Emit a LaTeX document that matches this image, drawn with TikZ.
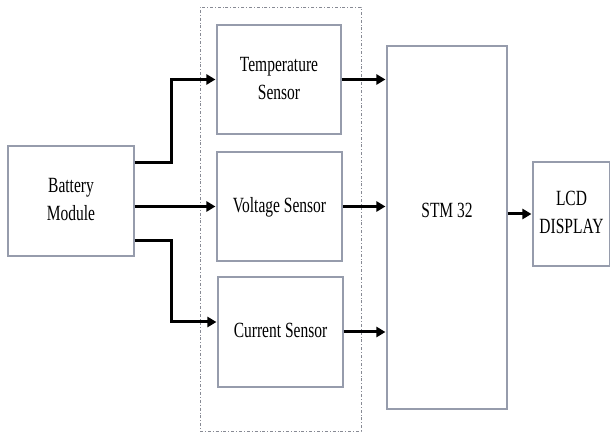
\documentclass[tikz,border=0pt]{standalone}
\usepackage{fontspec,graphicx}
\setmainfont{Liberation Serif}
\definecolor{bdgray}{RGB}{150,156,172}
\definecolor{dashgray}{RGB}{135,138,148}
\usetikzlibrary{arrows.meta,positioning,calc}
\newcommand{\tallish}[1]{{\fontsize{15.5}{20}\selectfont\scalebox{1}[1.4]{\begin{tabular}{@{}c@{}}#1\end{tabular}}}}

\begin{document}
\begin{tikzpicture}[x=1pt,y=-1pt,
  blk/.style={draw=bdgray,line width=1.1pt,inner sep=2pt},
  flow/.style={line width=3pt,-{Triangle[length=9pt,width=10pt]},shorten >=1pt}]
  \useasboundingbox (0,0) rectangle (610,435);
  \node[draw=dashgray,line width=0.8pt,dash pattern=on 3pt off 2pt on 0.8pt off 2pt,minimum width=161pt,minimum height=424pt] (sens) at (280.5,219) {};
  \node[blk,minimum width=126pt,minimum height=110pt] (bat) at (71,201) {\tallish{Battery\\Module}};
  \node[blk,minimum width=124pt,minimum height=109pt] (temp) at (279,79.5) {\tallish{Temperature\\Sensor}};
  \node[blk,minimum width=125pt,minimum height=109pt] (volt) at (279.5,206.5) {\tallish{Voltage Sensor}};
  \node[blk,minimum width=125pt,minimum height=110pt] (curr) at (280.5,332) {\tallish{Current Sensor}};
  \node[blk,minimum width=120pt,minimum height=363pt,label={[yshift=16pt]center:\tallish{STM 32}}] (stm) at (447,227.5) {};
  \node[blk,minimum width=77pt,minimum height=104pt] (lcd) at (571.5,214) {\tallish{LCD\\DISPLAY}};
  % battery to sensors
  \draw[flow] ([yshift=38pt]bat.east) -- ++(37,0) |- (temp.west);
  \draw[flow] (volt.west -| bat.east) -- (volt.west);
  \draw[flow] ([yshift=-40pt]bat.east) -- ++(37,0) |- ([yshift=10pt]curr.west);
  % sensors to controller
  \foreach \s in {temp,volt,curr}{\draw[flow] (\s.east) -- (\s.east -| stm.west);}
  \draw[flow] (lcd.west -| stm.east) -- (lcd.west);
\end{tikzpicture}
\end{document}
